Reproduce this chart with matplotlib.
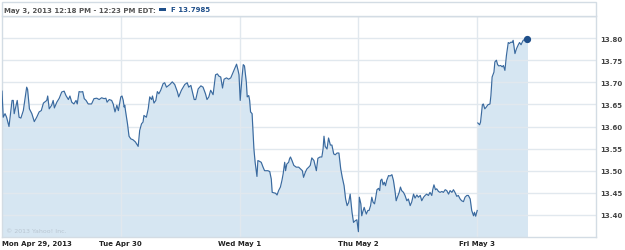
import matplotlib
matplotlib.use("Agg")
import matplotlib.pyplot as plt
import numpy as np

# trading minutes since Monday 09:30 open (390 minutes per session)
mon_t = [0, 4, 10, 15, 23, 33, 37, 40, 50, 56, 62, 70, 81, 84, 90, 98, 106, 114, 122, 129,
         136, 147, 150, 155, 163, 168, 172, 180, 188, 196, 204, 210, 218, 223, 229, 236, 243,
         247, 253, 259, 265, 270, 276, 283, 294, 302, 311, 319, 327, 335, 341, 345, 352, 360,
         365, 371, 377, 382]
mon_p = [13.680, 13.621, 13.629, 13.621, 13.600, 13.659, 13.659, 13.629, 13.659, 13.621,
         13.619, 13.636, 13.689, 13.684, 13.640, 13.629, 13.611, 13.621, 13.633, 13.636,
         13.653, 13.659, 13.669, 13.640, 13.648, 13.659, 13.642, 13.655, 13.664, 13.678,
         13.680, 13.670, 13.661, 13.669, 13.655, 13.651, 13.659, 13.651, 13.679, 13.678,
         13.679, 13.663, 13.659, 13.651, 13.651, 13.663, 13.664, 13.661, 13.665, 13.663,
         13.664, 13.655, 13.661, 13.659, 13.651, 13.633, 13.648, 13.636]

tue_t = [390, 394, 398, 401, 403, 406, 412, 417, 423, 430, 438, 447, 452, 458, 463, 466, 474,
         480, 485, 491, 494, 499, 505, 510, 515, 521, 529, 534, 540, 551, 559, 567, 576, 580,
         589, 600, 608, 613, 620, 625, 631, 636, 644, 653, 660, 668, 673, 679, 685, 693, 701,
         707, 712, 718, 724, 729, 737, 744, 751, 759, 764, 770, 775, 778]
tue_p = [13.667, 13.669, 13.659, 13.644, 13.648, 13.633, 13.606, 13.578, 13.572, 13.570,
         13.565, 13.555, 13.591, 13.606, 13.610, 13.625, 13.621, 13.640, 13.667, 13.661,
         13.669, 13.653, 13.659, 13.679, 13.674, 13.682, 13.697, 13.699, 13.689, 13.695,
         13.701, 13.695, 13.678, 13.667, 13.682, 13.695, 13.699, 13.689, 13.693, 13.678,
         13.661, 13.661, 13.685, 13.692, 13.689, 13.674, 13.661, 13.667, 13.682, 13.672,
         13.717, 13.719, 13.714, 13.712, 13.687, 13.707, 13.710, 13.707, 13.710, 13.723,
         13.731, 13.741, 13.727, 13.717]

wed_t = [782, 788, 792, 796, 802, 805, 810, 813, 816, 821, 824, 827, 831, 837, 840, 846, 851,
         857, 862, 868, 873, 879, 884, 887, 893, 898, 903, 908, 914, 919, 923, 928, 931, 935,
         941, 944, 947, 952, 958, 966, 974, 980, 986, 990, 996, 1001, 1007, 1012, 1017, 1024,
         1032, 1037, 1044, 1050, 1054, 1057, 1061, 1067, 1072, 1078, 1083, 1089, 1094, 1100,
         1106, 1112, 1117, 1123, 1128, 1133, 1138, 1143, 1149, 1154, 1160, 1165, 1170]
wed_p = [13.659, 13.712, 13.740, 13.737, 13.701, 13.667, 13.670, 13.659, 13.633, 13.629,
         13.587, 13.549, 13.519, 13.487, 13.523, 13.521, 13.519, 13.508, 13.500, 13.500,
         13.500, 13.498, 13.481, 13.451, 13.450, 13.449, 13.445, 13.455, 13.463, 13.478,
         13.493, 13.519, 13.500, 13.515, 13.519, 13.527, 13.531, 13.523, 13.512, 13.508,
         13.508, 13.504, 13.500, 13.485, 13.497, 13.504, 13.508, 13.512, 13.529, 13.523,
         13.500, 13.528, 13.531, 13.531, 13.549, 13.578, 13.555, 13.549, 13.574, 13.558,
         13.558, 13.538, 13.536, 13.540, 13.540, 13.504, 13.485, 13.466, 13.436, 13.421,
         13.428, 13.447, 13.406, 13.383, 13.387, 13.389, 13.362]

thu_t = [1173, 1178, 1181, 1184, 1189, 1192, 1196, 1201, 1205, 1210, 1214, 1218, 1223, 1227,
         1231, 1236, 1240, 1243, 1247, 1251, 1255, 1259, 1263, 1269, 1274, 1280, 1285, 1290,
         1294, 1298, 1304, 1308, 1312, 1318, 1323, 1329, 1334, 1340, 1345, 1351, 1356, 1362,
         1367, 1373, 1378, 1384, 1389, 1394, 1400, 1405, 1411, 1414, 1418, 1423, 1427, 1433,
         1438, 1444, 1449, 1455, 1460, 1466, 1471, 1477, 1482, 1487, 1493, 1498, 1504, 1509,
         1515, 1520, 1526, 1531, 1537, 1542, 1548, 1551, 1555, 1560]
thu_p = [13.440, 13.425, 13.398, 13.406, 13.417, 13.410, 13.402, 13.410, 13.410, 13.421,
         13.440, 13.429, 13.425, 13.440, 13.457, 13.460, 13.455, 13.478, 13.481, 13.468,
         13.474, 13.466, 13.478, 13.489, 13.488, 13.491, 13.478, 13.455, 13.432, 13.440,
         13.451, 13.463, 13.455, 13.451, 13.444, 13.432, 13.436, 13.421, 13.429, 13.447,
         13.438, 13.445, 13.440, 13.444, 13.432, 13.440, 13.444, 13.447, 13.444, 13.451,
         13.444, 13.457, 13.468, 13.457, 13.459, 13.453, 13.451, 13.453, 13.451, 13.457,
         13.455, 13.447, 13.455, 13.451, 13.457, 13.451, 13.442, 13.444, 13.436, 13.432,
         13.430, 13.440, 13.444, 13.444, 13.436, 13.410, 13.398, 13.406, 13.397, 13.410]

fri_t = [1562, 1568, 1571, 1577, 1580, 1585, 1590, 1595, 1602, 1605, 1609, 1615, 1618, 1623,
         1627, 1631, 1637, 1642, 1646, 1651, 1656, 1662, 1666, 1671, 1675, 1678, 1684, 1689,
         1695, 1699, 1704, 1708, 1711, 1717, 1721, 1725]
fri_p = [13.608, 13.604, 13.610, 13.649, 13.651, 13.640, 13.644, 13.649, 13.651, 13.670,
         13.712, 13.723, 13.746, 13.750, 13.740, 13.737, 13.738, 13.735, 13.738, 13.727,
         13.761, 13.790, 13.788, 13.791, 13.790, 13.795, 13.765, 13.776, 13.785, 13.790,
         13.785, 13.791, 13.795, 13.797, 13.797, 13.7985]

day_starts = [0, 390, 780, 1170, 1560]
day_labels = ["Mon Apr 29, 2013", "Tue Apr 30", "Wed May 1", "Thu May 2", "Fri May 3"]
y_ticks = [13.40, 13.45, 13.50, 13.55, 13.60, 13.65, 13.70, 13.75, 13.80]
y_grid = [13.40, 13.45, 13.50, 13.55, 13.60, 13.65, 13.70, 13.75, 13.80, 13.85]
header_text = "May 3, 2013 12:18 PM - 12:23 PM EDT:"
legend_text = "F 13.7985"
copyright_text = "\u00a9 2013 Yahoo! Inc."

LINE = "#3a6a9f"
FILL = "#d6e6f2"
GRID = "#e1e8ee"
FRAME = "#d3dce4"
FS = 5.0

W, H = 625, 251
fig = plt.figure(figsize=(W / 100, H / 100), dpi=100)
fig.patch.set_facecolor("white")

ax_l, ax_r, ax_t, ax_b = 2, 596, 17, 238
ax = fig.add_axes([ax_l / W, 1 - ax_b / H, (ax_r - ax_l) / W, (ax_b - ax_t) / H])
ax.set_xlim(0, 1950)
ax.set_ylim(13.35, 13.85)

t_main = np.array(mon_t + tue_t + wed_t + thu_t, dtype=float)
p_main = np.array(mon_p + tue_p + wed_p + thu_p)
t_fri = np.array(fri_t, dtype=float)
p_fri = np.array(fri_p)

ax.fill_between(t_main, p_main, 13.35, color=FILL, lw=0, zorder=1)
ax.fill_between(np.concatenate([[1560], t_fri]), np.concatenate([[p_fri[0]], p_fri]),
                13.35, color=FILL, lw=0, zorder=1)

for g in y_grid:
    ax.axhline(g, color=GRID, lw=1.0, zorder=2)
for d in day_starts[1:]:
    ax.axvline(d, color=GRID, lw=1.0, zorder=2)

ax.plot(t_main, p_main, color=LINE, lw=0.85, zorder=3, solid_joinstyle="round")
ax.plot(t_fri, p_fri, color=LINE, lw=0.85, zorder=3, solid_joinstyle="round")
ax.plot([t_fri[-1]], [p_fri[-1]], "o", color="#1f4f8a", ms=4.2, zorder=4)

for s in ax.spines.values():
    s.set_color(FRAME)
    s.set_linewidth(1.0)

ax.yaxis.tick_right()
ax.set_yticks(y_ticks)
ax.set_yticklabels([f"{v:.2f}" for v in y_ticks], fontsize=FS, fontweight="bold", color="#444444")
ax.set_xticks(day_starts)
ax.set_xticklabels(day_labels, fontsize=FS, fontweight="bold", color="#222222")
ax.tick_params(axis="both", length=0)
ax.tick_params(axis="y", pad=3)
ax.tick_params(axis="x", pad=2)
xl = ax.get_xticklabels()
xl[0].set_horizontalalignment("left")

ax.text(0.006, 0.02, copyright_text, transform=ax.transAxes, fontsize=4.5,
        color="#b9c6d2", ha="left", va="bottom", zorder=5)

# header strip
hdr = plt.Rectangle((ax_l / W, 1 - ax_t / H), (ax_r - ax_l) / W, (ax_t - 3) / H,
                    transform=fig.transFigure, facecolor="white", edgecolor=FRAME, lw=1.0)
fig.patches.append(hdr)
fig.text(4 / W, 1 - 10.5 / H, header_text, fontsize=FS, fontweight="bold",
         color="#555555", ha="left", va="center")
fig.patches.append(plt.Rectangle((159 / W, 1 - 12 / H), 7 / W, 3 / H,
                                 transform=fig.transFigure, facecolor="#1f4f8a", lw=0))
fig.text(171 / W, 1 - 10.5 / H, legend_text, fontsize=FS, fontweight="bold",
         color="#1f4f8a", ha="left", va="center")

fig.savefig("out.png", dpi=100)
